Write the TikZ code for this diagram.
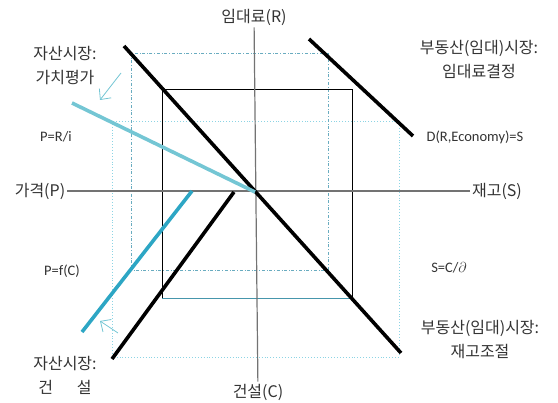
\documentclass[tikz,border=0pt]{standalone}
\usepackage{fontspec}
\setmainfont{Carlito}
\newfontfamily\kr{Noto Sans CJK KR}
\usetikzlibrary{arrows.meta}
\definecolor{assetlight}{RGB}{116,198,212}
\definecolor{assetdark}{RGB}{45,166,196}
\definecolor{guidedark}{RGB}{105,172,192}
\definecolor{guidelight}{RGB}{140,212,228}
\definecolor{boxbase}{RGB}{70,150,172}
\begin{document}
\begin{tikzpicture}[x=1pt,y=-1pt,
    txt/.style={text=black!80,inner sep=2pt},
    title/.style={txt,align=center,font=\kr\fontsize{16}{24}\selectfont},
    eq/.style={txt,font=\fontsize{14.5}{17}\selectfont},
    axis/.style={draw=black!55,line width=1.2pt},
    curve/.style={line width=3.6pt},
    asset/.style={line width=3.6pt},
    box/.style={draw=black,line width=0.9pt},
    frameA/.style={guidedark,dash dot,line width=0.8pt},
    frameB/.style={guidelight,dotted,line width=0.9pt},
    hint/.style={assetlight,line width=0.8pt,-{Straight Barb[length=8pt,width=15pt]}}]
  \useasboundingbox (0,0) rectangle (558,403);
  % guide frames behind everything
  \draw[frameB] (112,121) rectangle (399,357);
  \draw[frameA] (131,53) rectangle (328,270);
  % the square between the four markets
  \coordinate (bBL) at (162,298);
  \coordinate (bTR) at (352,89);
  \coordinate (bBR) at (352,298);
  \draw[box] (bBL) |- (bTR) -- (bBR);
  \draw[boxbase,line width=0.9pt] (bBL) -- (bBR);
  % axes
  \node[title] (rent)  at (254,17)  {임대료(R)};
  \node[title] (build) at (258,392) {건설(C)};
  \node[title] (price) at (40,191)  {가격(P)};
  \node[title] (stock) at (497,191) {재고(S)};
  \draw[axis] (price) -- (stock);
  \draw[axis] (rent) -- (build);
  % market curves
  \draw[curve] (124,46) -- (401,353);
  \draw[curve] (309,39) -- (413,136);
  \draw[curve] (112,359) -- (234,192);
  \draw[asset,assetlight] (72,103) -- (255,192);
  \draw[asset,assetdark] (82,332) -- (192,191);
  % shifts
  \draw[hint] (121,73) -- (100,100);
  \draw[hint] (118,333) -- (100,321);
  % quadrant labels
  \node[title] (valTitle)   at (65,66)   {자산시장:\\가치평가};
  \node[title] (conTitle)   at (65,375)  {자산시장:\\건\hspace{24pt}설};
  \node[title] (rentTitle)  at (479,60)  {부동산(임대)시장:\\임대료결정};
  \node[title] (stockTitle) at (480,340) {부동산(임대)시장:\\재고조절};
  \node[eq] (eqPR) at (56,137)  {P=R/i};
  \node[eq] (eqPC) at (62,271)  {P=f(C)};
  \node[eq] (eqD)  at (475,137) {D(R,Economy)=S};
  \node[eq] (eqS)  at (449,268) {S=C/$\partial$};
\end{tikzpicture}
\end{document}
